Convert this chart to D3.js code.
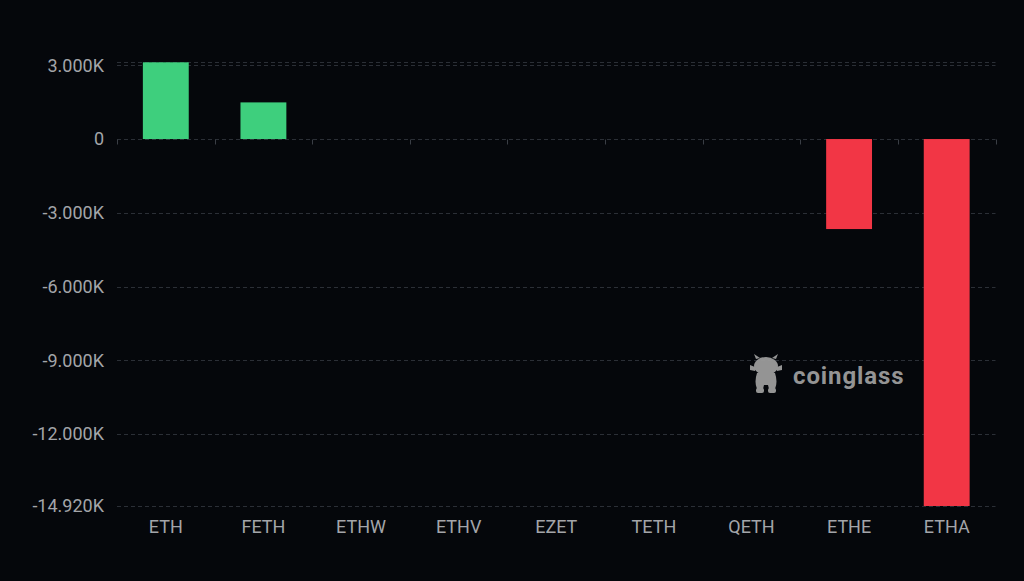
<!DOCTYPE html>
<html><head><meta charset="utf-8">
<script src="https://cdn.jsdelivr.net/npm/d3@7"></script>
<style>
html,body{margin:0;padding:0;background:#05070b;}
svg{display:block;}
</style></head>
<body>
<svg id="chart" width="1024" height="581"></svg>
<script>
const categories = ["ETH","FETH","ETHW","ETHV","EZET","TETH","QETH","ETHE","ETHA"];
const values = [3120, 1490, 0, 0, 0, 0, 0, -3660, -14920];
const yTickValues = [3000, 0, -3000, -6000, -9000, -12000, -14920];

const W = 1024, H = 581;
const m = {left:117, right:1024-995.5, top:62.3, bottom:581-506};
const svg = d3.select("#chart");
svg.append("rect").attr("width",W).attr("height",H).attr("fill","#05070b");

const x = d3.scaleBand().domain(categories).range([m.left, W-m.right]).padding(0);
const y = d3.scaleLinear().domain([d3.min(values), d3.max(values)]).range([H-m.bottom, m.top]);

const fmt = v => v === 0 ? "0" : (v<0?"-":"") + (Math.abs(v)/1000).toFixed(3) + "K";
const gridColor = "#2b2f36";
const textColor = "#a3a5a9";
const font = "Roboto, 'DejaVu Sans', sans-serif";

// gridlines (including top max line)
const gridVals = yTickValues.concat([d3.max(values)]);
svg.append("g").selectAll("line").data(gridVals).join("line")
  .attr("x1", m.left).attr("x2", W-m.right)
  .attr("y1", d=>Math.round(y(d))+0.5).attr("y2", d=>Math.round(y(d))+0.5)
  .attr("stroke", gridColor).attr("stroke-width",1).attr("stroke-dasharray","4,3");

// y axis labels
const yAxis = d3.axisLeft(y).tickValues(yTickValues).tickFormat(fmt).tickSize(0).tickPadding(13);
const gy = svg.append("g").attr("transform",`translate(${m.left},0)`).call(yAxis);
gy.select(".domain").remove();
gy.selectAll("text").attr("fill",textColor).style("font-family",font).style("font-size","18px");

// x axis at zero with ticks at band edges
const zeroY = Math.round(y(0))+0.5;
const edges = categories.map(c=>x(c)).concat([W-m.right]);
svg.append("g").selectAll("line").data(edges).join("line")
  .attr("x1",d=>Math.round(d)+0.5).attr("x2",d=>Math.round(d)+0.5)
  .attr("y1",zeroY).attr("y2",zeroY+5)
  .attr("stroke","#3a3e45").attr("stroke-width",1);

// x labels
const xAxis = d3.axisBottom(x).tickSize(0).tickPadding(0);
const gx = svg.append("g").attr("transform",`translate(0,${H-m.bottom})`).call(xAxis);
gx.select(".domain").remove();
gx.selectAll("text").attr("fill",textColor).attr("dy","0").attr("y",27)
  .style("font-family",font).style("font-size","18px");

// bars
const bw = x.bandwidth()*0.47;
svg.append("g").selectAll("rect").data(categories.map((c,i)=>({c, v:values[i]})).filter(d=>d.v!==0)).join("rect")
  .attr("x", d=>x(d.c)+(x.bandwidth()-bw)/2)
  .attr("width", bw)
  .attr("y", d=>y(Math.max(0,d.v)))
  .attr("height", d=>Math.abs(y(d.v)-y(0)))
  .attr("fill", d=>d.v>0 ? "#3ecf7d" : "#f23645");

// watermark
const wm = svg.append("g").attr("fill","#9c9c9c").attr("opacity",0.95);
const lg = wm.append("g").attr("transform","translate(766,374)");
lg.append("ellipse").attr("cx",0).attr("cy",-8).attr("rx",12).attr("ry",9);
lg.append("path").attr("d","M-10,-15 L-12,-20 L-6,-16 Z M10,-15 L12,-20 L6,-16 Z");
lg.append("path").attr("d","M-16,-9 L-11,-7 L-11,-3 L-16,-4 Z M16,-9 L11,-7 L11,-3 L16,-4 Z");
lg.append("path").attr("d","M-9,-1 Q-12,8 -9,15 L-3,15 L-2,11 L2,11 L3,15 L9,15 Q12,8 9,-1 Z");
lg.append("rect").attr("x",-10).attr("y",14).attr("width",8).attr("height",5).attr("rx",2);
lg.append("rect").attr("x",2).attr("y",14).attr("width",8).attr("height",5).attr("rx",2);
wm.append("text").attr("x",793).attr("y",384).text("coinglass")
  .style("font-family",font).style("font-weight","bold").style("font-size","24px").style("letter-spacing","0.9px");
</script>
</body></html>
